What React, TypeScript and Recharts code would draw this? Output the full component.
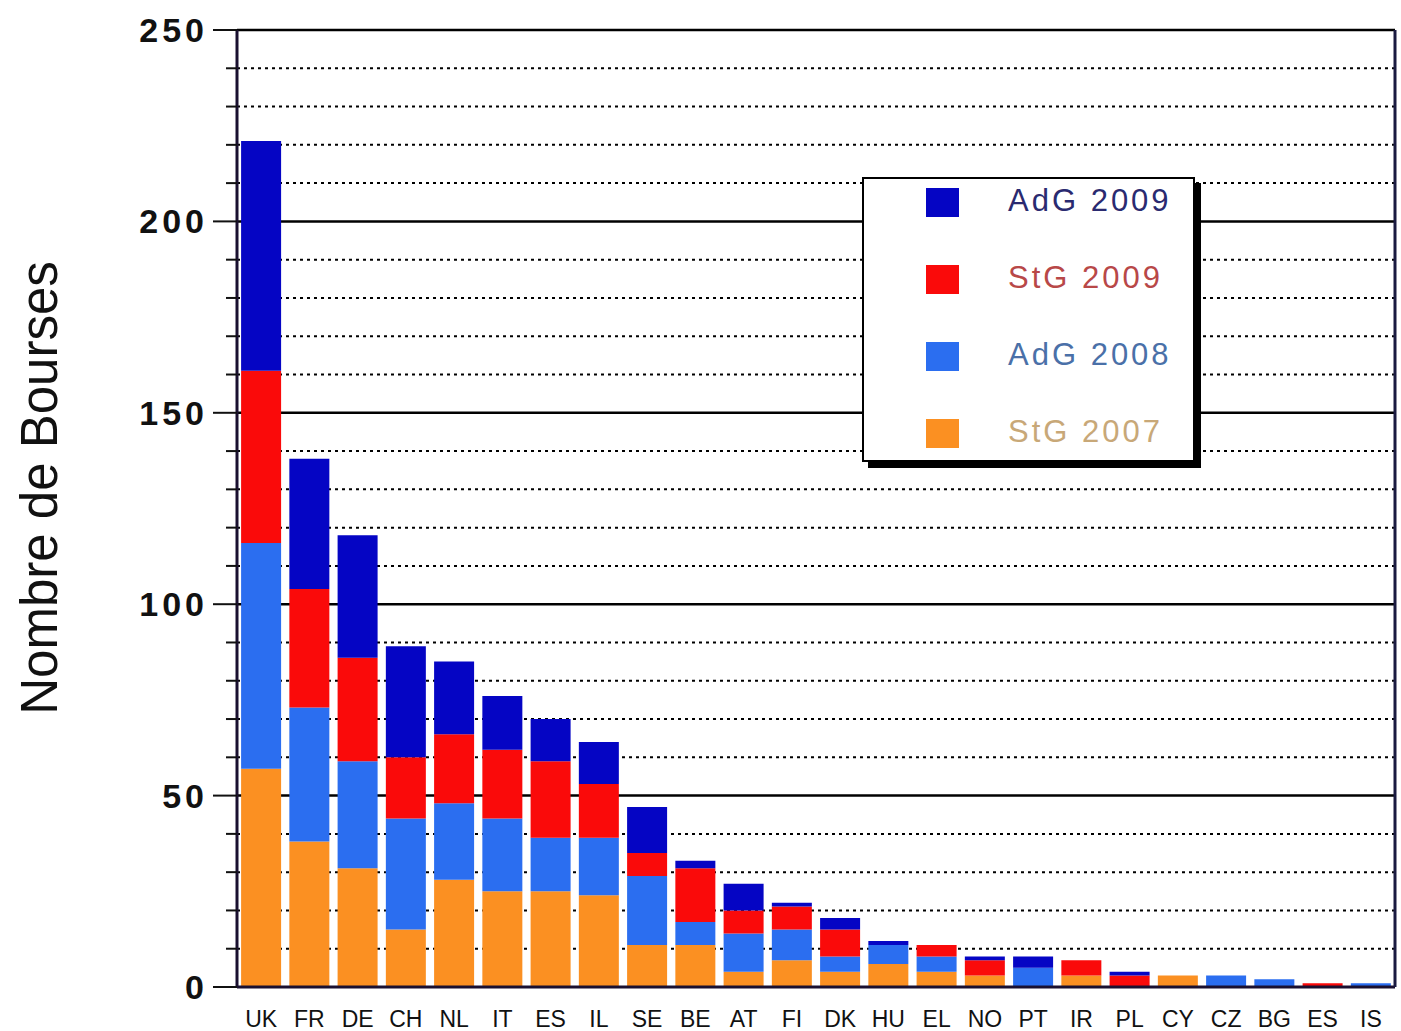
import React from "react";
import {
  BarChart,
  Bar,
  XAxis,
  YAxis,
  CartesianGrid,
  Legend,
} from "recharts";

// country codes, left to right
const countries = [
  "UK", "FR", "DE", "CH", "NL", "IT", "ES", "IL", "SE", "BE", "AT", "FI",
  "DK", "HU", "EL", "NO", "PT", "IR", "PL", "CY", "CZ", "BG", "ES", "IS",
];

// stacked from bottom to top
const stg2007 = [57, 38, 31, 15, 28, 25, 25, 24, 11, 11, 4, 7, 4, 6, 4, 3, 0, 3, 0, 3, 0, 0, 0, 0];
const adg2008 = [59, 35, 28, 29, 20, 19, 14, 15, 18, 6, 10, 8, 4, 5, 4, 0, 5, 0, 0, 0, 3, 2, 0, 1];
const stg2009 = [45, 31, 27, 16, 18, 18, 20, 14, 6, 14, 6, 6, 7, 0, 3, 4, 0, 4, 3, 0, 0, 0, 1, 0];
const adg2009 = [60, 34, 32, 29, 19, 14, 11, 11, 12, 2, 7, 1, 3, 1, 0, 1, 3, 0, 1, 0, 0, 0, 0, 0];

const yTicks = [0, 10, 20, 30, 40, 50, 60, 70, 80, 90, 100, 110, 120, 130, 140, 150, 160, 170, 180, 190, 200, 210, 220, 230, 240, 250];
const majorLines = [50, 100, 150, 200, 250];
const minorLines = yTicks.filter((v) => v % 50 !== 0);

const series = [
  { key: "stg2007", name: "StG 2007", color: "#fb9022", text: "#c8a878" },
  { key: "adg2008", name: "AdG 2008", color: "#2b6ef0", text: "#4a70a8" },
  { key: "stg2009", name: "StG 2009", color: "#fa0a0a", text: "#b84848" },
  { key: "adg2009", name: "AdG 2009", color: "#0505c4", text: "#2a2a70" },
];

const data = countries.map((c, i) => ({
  country: c,
  stg2007: stg2007[i],
  adg2008: adg2008[i],
  stg2009: stg2009[i],
  adg2009: adg2009[i],
}));

const FONT = "'Liberation Sans', Arial, sans-serif";

// left axis tick: long mark + label on multiples of 50, short mark otherwise
const YTick = ({ x, y, payload }: any) => {
  const major = payload.value % 50 === 0;
  return (
    <g>
      <line x1={x - (major ? 24 : 11)} x2={x} y1={y} y2={y} stroke="#111" strokeWidth={2} />
      {major && (
        <text
          x={x - 29}
          y={y}
          dy={12}
          textAnchor="end"
          fontFamily={FONT}
          fontWeight="bold"
          fontSize={34}
          letterSpacing={4}
          fill="#111"
        >
          {payload.value}
        </text>
      )}
    </g>
  );
};

const LegendBox = () => (
  <div
    style={{
      position: "relative",
      width: 333,
      height: 285,
      boxSizing: "border-box",
      background: "#fff",
      border: "2px solid #000",
      boxShadow: "6px 6px 0 #000",
      fontFamily: FONT,
    }}
  >
    {[...series].reverse().map((s, i) => (
      <div key={s.key}>
        <div
          style={{
            position: "absolute",
            left: 62,
            top: 9 + i * 77,
            width: 33,
            height: 29,
            background: s.color,
          }}
        />
        <div
          style={{
            position: "absolute",
            left: 144,
            top: 4 + i * 77,
            fontSize: 31,
            letterSpacing: 3,
            color: s.text,
            lineHeight: "36px",
            whiteSpace: "nowrap",
          }}
        >
          {s.name}
        </div>
      </div>
    ))}
  </div>
);

export default function App() {
  return (
    <div style={{ position: "absolute", left: 0, top: 0, background: "#fff" }}>
      <BarChart
        width={1401}
        height={1031}
        data={data}
        barCategoryGap="8.5%"
        margin={{ top: 30, right: 0, left: 0, bottom: 0 }}
      >
        <CartesianGrid
          yAxisId="left"
          vertical={false}
          horizontalValues={minorLines}
          stroke="#000"
          strokeWidth={2}
          strokeDasharray="3 4"
        />
        <CartesianGrid
          yAxisId="left"
          vertical={false}
          horizontalValues={majorLines}
          stroke="#000"
          strokeWidth={2.5}
        />
        <XAxis
          dataKey="country"
          height={44}
          tickLine={false}
          tickSize={0}
          tickMargin={24}
          interval={0}
          axisLine={{ stroke: "#1a1030", strokeWidth: 3 }}
          tick={{ fill: "#111", fontSize: 23, fontFamily: FONT }}
        />
        <YAxis
          yAxisId="left"
          width={237}
          domain={[0, 250]}
          ticks={yTicks}
          interval={0}
          tickLine={false}
          tickSize={0}
          tickMargin={0}
          axisLine={{ stroke: "#1a1030", strokeWidth: 3 }}
          tick={<YTick />}
          label={{
            content: () => (
              <text
                x={57}
                y={488}
                transform="rotate(-90 57 488)"
                textAnchor="middle"
                fontFamily={FONT}
                fontSize={51}
                fill="#111"
              >
                Nombre de Bourses
              </text>
            ),
          }}
        />
        <YAxis
          yAxisId="right"
          orientation="right"
          width={6}
          domain={[0, 250]}
          ticks={yTicks}
          interval={0}
          tick={false}
          tickSize={6}
          tickLine={{ stroke: "#1a1a40", strokeWidth: 2 }}
          axisLine={{ stroke: "#1a1a40", strokeWidth: 3 }}
        />
        <Legend
          layout="vertical"
          align="center"
          verticalAlign="middle"
          content={<LegendBox />}
          wrapperStyle={{ left: 862, top: 177, width: 333, height: 285 }}
        />
        {series.map((s) => (
          <Bar
            key={s.key}
            yAxisId="left"
            dataKey={s.key}
            name={s.name}
            stackId="a"
            fill={s.color}
            isAnimationActive={false}
          />
        ))}
      </BarChart>
    </div>
  );
}
